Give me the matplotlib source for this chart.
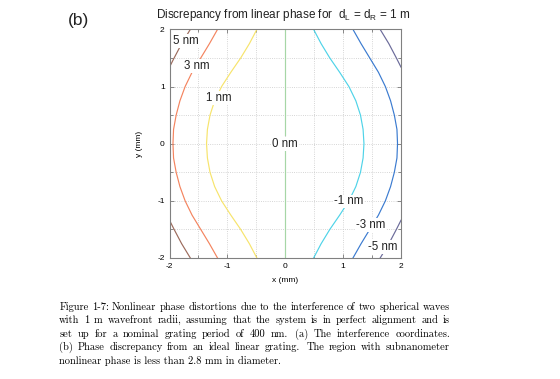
import matplotlib
matplotlib.use('Agg')
import matplotlib.pyplot as plt
from matplotlib.ticker import MultipleLocator

# ---- data (x in mm along each contour, y in mm) ----
y_pts = [-2.0, -1.75, -1.5, -1.25, -1.0, -0.75, -0.5, -0.25, 0.0,
         0.25, 0.5, 0.75, 1.0, 1.25, 1.5, 1.75, 2.0]
x_p1 = [-0.49, -0.62, -0.77, -0.94, -1.10, -1.22, -1.30, -1.345, -1.36,
        -1.345, -1.30, -1.22, -1.10, -0.94, -0.77, -0.62, -0.49]
x_m1 = [0.49, 0.62, 0.77, 0.94, 1.10, 1.22, 1.30, 1.345, 1.36,
        1.345, 1.30, 1.22, 1.10, 0.94, 0.77, 0.62, 0.49]
x_p3 = [-1.17, -1.31, -1.46, -1.61, -1.73, -1.82, -1.885, -1.93, -1.94,
        -1.93, -1.885, -1.82, -1.73, -1.61, -1.46, -1.31, -1.17]
x_m3 = [1.17, 1.31, 1.46, 1.61, 1.73, 1.82, 1.885, 1.93, 1.94,
        1.93, 1.885, 1.82, 1.73, 1.61, 1.46, 1.31, 1.17]
y5_top = [1.34, 1.5, 1.75, 2.0]
y5_bot = [-2.0, -1.75, -1.5, -1.34]
x_p5_top = [-2.0, -1.92, -1.79, -1.64]
x_p5_bot = [-1.64, -1.79, -1.92, -2.0]
x_m5_top = [2.0, 1.92, 1.79, 1.64]
x_m5_bot = [1.64, 1.79, 1.92, 2.0]
y0_upper = [0.16, 2.0]
y0_lower = [-2.0, -0.13]
x0 = [0.0, 0.0]

label_text = ['5 nm', '3 nm', '1 nm', '0 nm', '-1 nm', '-3 nm', '-5 nm']
label_x = [-1.72, -1.53, -1.14, 0.0, 1.09, 1.48, 1.68]
label_y = [1.80, 1.36, 0.80, 0.0, -1.01, -1.42, -1.81]

tick_vals = [-2, -1, 0, 1, 2]

caption_lines = [
    "Figure 1-7: Nonlinear phase distortions due to the interference of two spherical waves",
    "with 1 m wavefront radii, assuming that the system is in perfect alignment and is",
    "set up for a nominal grating period of 400 nm.  (a) The interference coordinates.",
    "(b) Phase discrepancy from an ideal linear grating.  The region with subnanometer",
    "nonlinear phase is less than 2.8 mm in diameter.",
]

# ---- colours ----
c5, c3, c1, c0 = '#9c6b5c', '#f4845f', '#f7e46c', '#a6d6a6'
cm1, cm3, cm5 = '#4fd3e8', '#3b7bd0', '#6b6b9a'

plt.rcParams['font.family'] = ['Liberation Sans', 'DejaVu Sans']
plt.rcParams['axes.unicode_minus'] = False

W, H = 560, 379
fig = plt.figure(figsize=(W / 100, H / 100), dpi=100)
L, R, T, B = 169.5, 401, 29.4, 258
ax = fig.add_axes([L / W, 1 - B / H, (R - L) / W, (B - T) / H])

lw = 0.85
ax.plot(x_p5_top, y5_top, color=c5, lw=lw)
ax.plot(x_p5_bot, y5_bot, color=c5, lw=lw)
ax.plot(x_p3, y_pts, color=c3, lw=lw)
ax.plot(x_p1, y_pts, color=c1, lw=lw)
ax.plot(x0, y0_upper, color=c0, lw=lw)
ax.plot(x0, y0_lower, color=c0, lw=lw)
ax.plot(x_m1, y_pts, color=cm1, lw=lw)
ax.plot(x_m3, y_pts, color=cm3, lw=lw)
ax.plot(x_m5_top, y5_top, color=cm5, lw=lw)
ax.plot(x_m5_bot, y5_bot, color=cm5, lw=lw)

for t, x, y in zip(label_text, label_x, label_y):
    ax.text(x, y, t, fontsize=8.3, ha='center', va='center', color='#222222',
            bbox=dict(facecolor='white', edgecolor='none', pad=0.6), zorder=5)

ax.set_xlim(-2, 2)
ax.set_ylim(-2, 2)
ax.set_xticks(tick_vals)
ax.set_yticks(tick_vals)
ax.xaxis.set_minor_locator(MultipleLocator(0.5))
ax.yaxis.set_minor_locator(MultipleLocator(0.5))
ax.grid(True, which='both', linestyle=':', color='#c8c8c8', linewidth=0.6)
ax.set_axisbelow(True)
ax.tick_params(which='both', direction='in', top=True, right=True,
               color='#777777', width=0.6, labelsize=6, pad=3.5)
ax.tick_params(which='major', length=3)
ax.tick_params(which='minor', length=2)
for s in ax.spines.values():
    s.set_color('#808080')
    s.set_linewidth(0.8)

ax.set_xlabel('x (mm)', fontsize=6)
ax.set_ylabel('y (mm)', fontsize=6)
ax.xaxis.set_label_coords(0.5, -(277 - B) / (B - T) - 0.0)
ax.yaxis.set_label_coords(-(L - 143.3) / (R - L), 0.5)

fig.text(283 / W, 1 - 18.3 / H,
         'Discrepancy from linear phase for  d$_\\mathregular{L}$ = d$_\\mathregular{R}$ = 1 m',
         fontsize=8.5, ha='center', va='baseline', color='#222222')
fig.text(68 / W, 1 - 20 / H, '(b)', fontsize=12.5, ha='left', va='center', color='#222222')

# ---- caption, justified ----
fig.canvas.draw()
r = fig.canvas.get_renderer()
cap_family = ['cmr10', 'DejaVu Serif']


def width(s, fs):
    t = fig.text(0, 0, s, fontsize=fs, family=cap_family)
    w = t.get_window_extent(r).width
    t.remove()
    return w


x_left, x_right = 59.3, 450.0
nat = width(caption_lines[-1], 10)
fs = 10 * 224.0 / nat
baselines = [309.5, 323.1, 336.7, 350.3, 364.0]
for i, line in enumerate(caption_lines):
    yb = 1 - baselines[i] / H
    if i == len(caption_lines) - 1:
        fig.text(x_left / W, yb, line, fontsize=fs, family=cap_family,
                 va='baseline', ha='left', color='#000000')
        continue
    words = line.split()
    ww = [width(w, fs) for w in words]
    weights = [1.4 if words[k].endswith('.') else 1.0 for k in range(len(words) - 1)]
    gap_unit = (x_right - x_left - sum(ww)) / sum(weights)
    x = x_left
    for k, w in enumerate(words):
        fig.text(x / W, yb, w, fontsize=fs, family=cap_family,
                 va='baseline', ha='left', color='#000000')
        if k < len(weights):
            x += ww[k] + gap_unit * weights[k]

fig.savefig('out.png', dpi=100)
